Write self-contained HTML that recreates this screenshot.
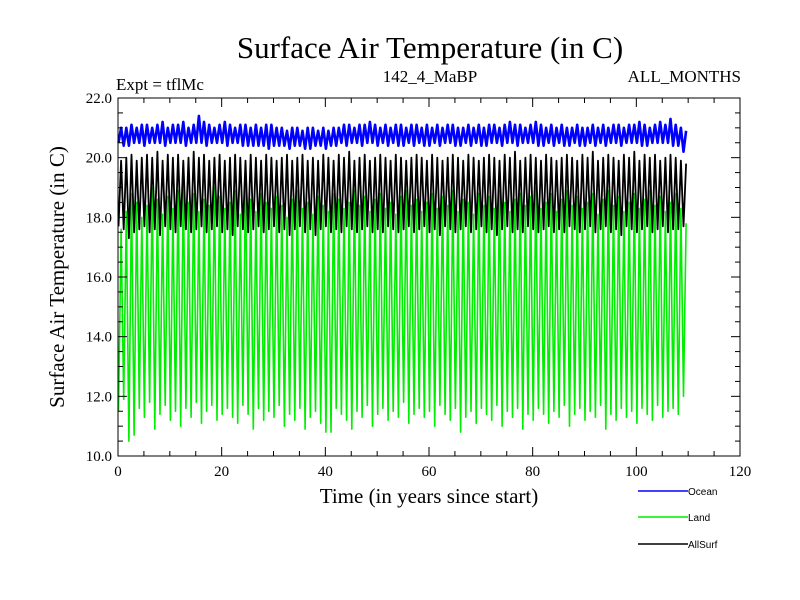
<!DOCTYPE html>
<html><head><meta charset="utf-8"><style>
body{margin:0;background:#fff;}
svg{display:block;font-family:"Liberation Serif",serif;}
</style></head><body>
<svg id="chart" width="800" height="600">
<rect width="800" height="600" fill="#fff"/>
<text x="430" y="58" font-size="31" text-anchor="middle">Surface Air Temperature (in C)</text>
<text x="116" y="90" font-size="17">Expt = tflMc</text>
<text x="430" y="82" font-size="17" text-anchor="middle">142_4_MaBP</text>
<text x="741" y="82" font-size="17" text-anchor="end">ALL_MONTHS</text>
<text x="429" y="503" font-size="21" text-anchor="middle">Time (in years since start)</text>
<text transform="translate(64,277) rotate(-90)" font-size="21" text-anchor="middle">Surface Air Temperature (in C)</text>
<g id="series"></g>
<g id="axes"></g>
<g font-family="Liberation Sans, sans-serif" font-size="10">
<g><line x1="638" y1="491" x2="688" y2="491" stroke="#0000ff" stroke-width="1.5"/><text x="688" y="495">Ocean</text></g>
<g><line x1="638" y1="517" x2="688" y2="517" stroke="#00ee00" stroke-width="1.5"/><text x="688" y="521">Land</text></g>
<g><line x1="638" y1="544" x2="688" y2="544" stroke="#000" stroke-width="1.5"/><text x="688" y="548">AllSurf</text></g>
</g>
</svg>
<script>
const xTicks=[0,20,40,60,80,100,120];
const yTicks=[10,12,14,16,18,20,22];
const yTickLabels=["10.0","12.0","14.0","16.0","18.0","20.0","22.0"];
const landMax=[17.6,18.2,18.8,18.5,18.0,18.4,19.0,18.6,18.1,18.7,18.3,18.9,19.2,18.5,18.8,18.2,18.6,18.4,19.0,18.7,18.3,18.5,18.9,18.1,19.4,18.6,18.2,18.8,18.5,18.3,18.7,18.4,18.0,18.6,18.9,18.3,18.5,18.1,18.7,18.4,18.2,18.8,18.6,18.3,18.5,18.9,18.4,18.7,18.2,18.6,18.8,18.3,18.5,18.1,18.7,18.9,18.4,18.6,18.2,18.5,18.8,18.3,18.7,18.4,18.9,18.2,18.6,18.5,18.1,18.8,18.4,18.7,18.3,18.9,18.5,18.2,18.6,18.8,18.4,18.7,19.0,18.3,18.5,18.8,18.2,18.6,18.9,18.4,18.7,18.3,18.5,18.8,18.1,18.6,18.9,18.4,18.7,18.2,18.5,18.8,18.3,18.6,18.9,18.4,18.7,18.2,18.5,18.8,18.3,17.8];
const landMin=[11.5,11.9,10.5,10.7,11.6,11.3,11.8,10.9,11.4,11.7,11.2,11.5,11.0,11.6,11.3,11.8,11.1,11.5,11.7,11.2,11.4,11.6,11.3,11.1,11.7,11.4,10.9,11.6,11.2,11.5,11.3,11.7,11.0,11.4,11.2,11.6,10.9,11.3,11.5,11.1,10.8,10.8,11.6,11.4,11.2,10.9,11.5,11.3,11.7,11.0,11.4,11.6,11.2,11.5,11.3,11.8,11.1,11.4,11.6,11.3,11.5,11.0,11.7,11.4,11.2,11.6,10.8,11.3,11.5,11.1,11.6,11.4,11.2,11.7,11.0,11.5,11.3,11.6,10.9,11.4,11.2,11.6,11.4,11.1,11.5,11.3,11.7,11.0,11.4,11.6,11.2,11.5,11.3,11.7,10.9,11.4,11.2,11.6,11.3,11.5,11.1,11.6,11.4,11.2,11.7,11.3,11.5,11.6,11.4,12.0];
const allMax=[19.9,20.0,20.1,19.9,20.0,20.1,20.0,20.2,19.9,20.1,20.0,20.1,19.9,20.0,20.2,20.0,20.1,19.9,20.0,20.1,19.9,20.0,20.1,20.0,19.9,20.1,20.0,19.9,20.1,20.0,19.9,20.0,20.1,19.9,20.0,20.1,19.9,20.0,19.9,20.1,20.0,19.9,20.1,20.0,20.2,19.9,20.0,20.1,19.9,20.0,20.1,20.0,19.9,20.1,20.0,19.9,20.0,20.1,20.0,19.9,20.1,20.0,19.9,20.0,20.1,20.0,19.9,20.1,20.0,19.9,20.0,20.1,20.0,19.9,20.1,20.0,20.2,19.9,20.0,20.1,20.0,19.9,20.1,20.0,19.9,20.0,20.1,20.0,19.9,20.1,20.0,20.2,19.9,20.0,20.1,20.0,19.9,20.1,20.0,20.2,19.9,20.1,20.0,20.1,19.9,20.0,20.1,20.0,19.9,19.8];
const allMin=[17.7,17.6,17.3,17.5,17.6,17.7,17.5,17.6,17.4,17.7,17.6,17.5,17.7,17.6,17.5,17.6,17.7,17.5,17.6,17.7,17.5,17.6,17.4,17.7,17.6,17.5,17.6,17.7,17.5,17.6,17.7,17.5,17.6,17.4,17.6,17.7,17.5,17.6,17.4,17.6,17.7,17.5,17.6,17.5,17.7,17.6,17.5,17.6,17.7,17.5,17.6,17.5,17.7,17.6,17.5,17.6,17.7,17.5,17.6,17.7,17.5,17.6,17.4,17.7,17.6,17.5,17.6,17.7,17.5,17.6,17.7,17.5,17.6,17.4,17.6,17.7,17.5,17.6,17.5,17.7,17.6,17.5,17.6,17.7,17.5,17.6,17.5,17.7,17.6,17.5,17.6,17.7,17.5,17.6,17.7,17.5,17.6,17.4,17.7,17.6,17.5,17.6,17.7,17.5,17.6,17.7,17.5,17.6,17.6,17.7];
const oceanMax=[21.0,21.0,21.1,21.0,21.1,21.1,21.0,21.1,21.2,21.0,21.1,21.1,21.2,21.0,21.1,21.4,21.2,21.1,21.0,21.1,21.2,21.1,21.0,21.1,21.1,21.0,21.1,21.0,21.1,21.1,21.0,21.0,20.9,21.0,21.0,20.9,21.0,21.0,20.9,21.0,20.9,21.0,21.0,21.1,21.1,21.0,21.1,21.1,21.2,21.1,21.0,21.1,21.0,21.1,21.1,21.0,21.1,21.1,21.0,21.1,21.0,21.1,21.0,21.1,21.1,21.0,21.0,21.1,21.0,21.1,21.0,21.1,21.1,21.0,21.1,21.2,21.1,21.1,21.0,21.1,21.2,21.1,21.0,21.1,21.0,21.1,21.0,21.0,21.1,21.0,21.0,21.1,21.0,21.1,21.0,21.1,21.1,21.0,21.1,21.1,21.2,21.1,21.0,21.1,21.2,21.1,21.3,21.1,21.0,20.9];
const oceanMin=[20.5,20.4,20.4,20.5,20.5,20.4,20.5,20.5,20.5,20.4,20.5,20.5,20.5,20.4,20.5,20.5,20.5,20.4,20.5,20.5,20.5,20.4,20.5,20.5,20.4,20.4,20.4,20.4,20.4,20.3,20.4,20.4,20.4,20.3,20.4,20.4,20.3,20.3,20.4,20.4,20.3,20.4,20.4,20.5,20.4,20.5,20.5,20.4,20.5,20.5,20.4,20.5,20.4,20.5,20.4,20.4,20.5,20.4,20.5,20.4,20.4,20.5,20.4,20.5,20.5,20.4,20.4,20.5,20.4,20.5,20.4,20.4,20.5,20.5,20.4,20.5,20.5,20.4,20.5,20.5,20.5,20.4,20.4,20.5,20.4,20.5,20.4,20.4,20.5,20.4,20.4,20.5,20.4,20.5,20.4,20.5,20.5,20.4,20.5,20.5,20.5,20.4,20.4,20.5,20.5,20.5,20.5,20.4,20.4,20.2];

const L=118,R=740,T=98,B=456,X0=0,X1=120,Y0=10,Y1=22;
const sx=v=>L+(v-X0)/(X1-X0)*(R-L);
const sy=v=>B-(v-Y0)/(Y1-Y0)*(B-T);
const NS="http://www.w3.org/2000/svg";
function mk(tag,attrs,parent){const e=document.createElementNS(NS,tag);for(const k in attrs)e.setAttribute(k,attrs[k]);parent.appendChild(e);return e;}
const series=document.getElementById('series');
function drawSeries(mins,maxs,color,w,name){
  let d="";
  for(let i=0;i<maxs.length;i++){
    d+=(i?"L":"M")+sx(i+0.1).toFixed(1)+","+sy(mins[i]).toFixed(1);
    d+="L"+sx(i+0.6).toFixed(1)+","+sy(maxs[i]).toFixed(1);
  }
  const p=mk('path',{d:d,fill:"none",stroke:color,"stroke-width":w,"stroke-linejoin":"round"},series);
  
  
}
drawSeries(landMin,landMax,"#00ee00",1.6,"land-line");
drawSeries(allMin,allMax,"#000000",1.8,"allsurf-line");
drawSeries(oceanMin,oceanMax,"#0000ff",2.6,"ocean-line");

const axes=document.getElementById('axes');
const frame=mk('rect',{x:L,y:T,width:R-L,height:B-T,fill:"none",stroke:"#000","stroke-width":1},axes);


for(let v=0;v<=120;v+=5){
  const len=(v%20===0)?9:5,x=sx(v);
  mk('line',{x1:x,y1:B,x2:x,y2:B-len,stroke:"#000"},axes);
  mk('line',{x1:x,y1:T,x2:x,y2:T+len,stroke:"#000"},axes);
}
for(let v=10;v<=22.001;v+=0.5){
  const len=(Math.abs(v%2)<0.01)?9:5,y=sy(v);
  mk('line',{x1:L,y1:y,x2:L+len,y2:y,stroke:"#000"},axes);
  mk('line',{x1:R,y1:y,x2:R-len,y2:y,stroke:"#000"},axes);
}
xTicks.forEach(v=>{
  const t=mk('text',{x:sx(v),y:B+20,"font-size":15,"text-anchor":"middle"},axes);
  t.textContent=v;
  
  
});
yTicks.forEach((v,i)=>{
  const t=mk('text',{x:L-6,y:sy(v)+5,"font-size":15,"text-anchor":"end"},axes);
  t.textContent=yTickLabels[i];
  
  
});
</script>
</body></html>
